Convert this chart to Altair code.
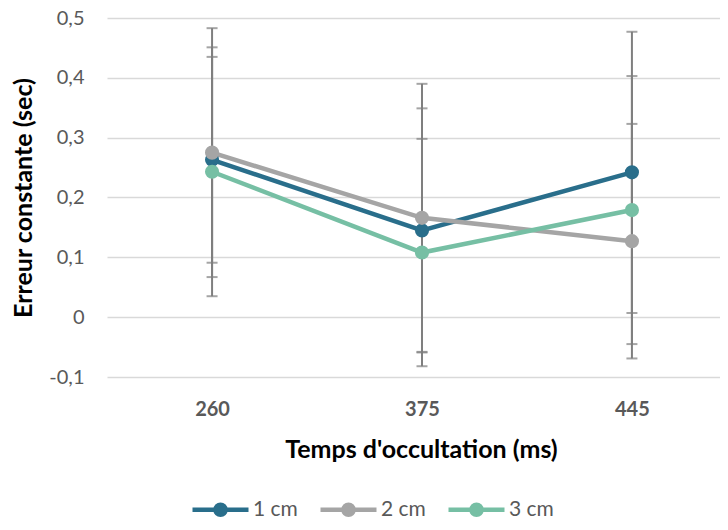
import altair as alt
import pandas as pd

categories = ["260", "375", "445"]
series = ["1 cm", "2 cm", "3 cm"]
means_1cm = [0.263, 0.145, 0.242]
means_2cm = [0.275, 0.166, 0.127]
means_3cm = [0.243, 0.108, 0.179]
err_1cm = [0.172, 0.204, 0.235]
err_2cm = [0.208, 0.224, 0.196]
err_3cm = [0.208, 0.190, 0.224]
colors = ["#296e8b", "#a5a5a5", "#76bfa4"]
y_ticks = [-0.1, 0.0, 0.1, 0.2, 0.3, 0.4, 0.5]

rows = []
for s, m, e in zip(series, [means_1cm, means_2cm, means_3cm], [err_1cm, err_2cm, err_3cm]):
    for c, mv, ev in zip(categories, m, e):
        rows.append({"temps": c, "serie": s, "moyenne": mv, "erreur": ev})
df = pd.DataFrame(rows)

FONT = "Lato"
label_expr = "datum.value == 0 ? '0' : replace(replace(format(datum.value, '.1f'), '.', ','), '\u2212', '-')"

x_enc = alt.X(
    "temps:N",
    sort=categories,
    scale=alt.Scale(type="point", padding=0.46, align=0.544),
    axis=alt.Axis(
        title="Temps d'occultation (ms)",
        labelAngle=0,
        labelFontWeight="bold",
        labelColor="#595959",
        labelFontSize=20,
        labelPadding=22,
        ticks=False,
        domain=False,
        grid=False,
        titleFontSize=25,
        titleFontWeight="bold",
        titleColor="#000000",
        titlePadding=18,
        titleX=314,
    ),
)

y_scale = alt.Scale(domain=[-0.1, 0.5], nice=False, zero=False)
y_axis = alt.Axis(
    title="Erreur constante (sec)",
    values=y_ticks,
    labelExpr=label_expr,
    labelColor="#595959",
    labelFontSize=20,
    labelPadding=23,
    ticks=False,
    domain=False,
    grid=True,
    gridColor="#d9d9d9",
    gridWidth=1.3,
    titleFontSize=25,
    titleFontWeight="bold",
    titleColor="#000000",
    titlePadding=12,
)

base = alt.Chart(df)

bars = base.transform_calculate(
    lo="datum.moyenne - datum.erreur", hi="datum.moyenne + datum.erreur"
).mark_rule(color="#7f7f7f", strokeWidth=2).encode(
    x=x_enc,
    y=alt.Y("lo:Q", scale=y_scale, axis=y_axis),
    y2="hi:Q",
)

caps_lo = base.transform_calculate(
    lo="datum.moyenne - datum.erreur"
).mark_tick(color="#7f7f7f", thickness=2, size=11, orient="horizontal").encode(
    x=x_enc,
    y=alt.Y("lo:Q", scale=y_scale, axis=y_axis),
)
caps_hi = base.transform_calculate(
    hi="datum.moyenne + datum.erreur"
).mark_tick(color="#7f7f7f", thickness=2, size=11, orient="horizontal").encode(
    x=x_enc,
    y=alt.Y("hi:Q", scale=y_scale, axis=y_axis),
)

color_enc = alt.Color(
    "serie:N",
    scale=alt.Scale(domain=series, range=colors),
    legend=alt.Legend(
        title=None,
        orient="none",
        direction="horizontal",
        legendX=101,
        legendY=479,
        symbolType="M-2.8,0L2.8,0M-0.5,0A0.5,0.5 0 1,0 0.5,0A0.5,0.5 0 1,0 -0.5,0",
        symbolSize=400,
        symbolStrokeWidth=4.5,
        labelFontSize=21,
        labelColor="#595959",
        labelOffset=20,
        columnPadding=13,
        padding=0,
    ),
)

lines = base.mark_line(strokeWidth=4.5).encode(
    x=x_enc,
    y=alt.Y("moyenne:Q", scale=y_scale, axis=y_axis),
    color=color_enc,
    order=alt.Order("temps:N"),
)
points = base.mark_circle(size=200, opacity=1).encode(
    x=x_enc,
    y=alt.Y("moyenne:Q", scale=y_scale, axis=y_axis),
    color=color_enc,
)

chart = alt.layer(bars, caps_lo, caps_hi, lines, points).properties(
    width=613,
    height=359,
    autosize=alt.AutoSizeParams(type="none"),
    padding={"left": 99, "top": 10, "right": 0, "bottom": 143},
).configure(
    font=FONT,
).configure_view(stroke=None)

chart.save("out.html", embed_options={"renderer": "svg", "actions": False})
